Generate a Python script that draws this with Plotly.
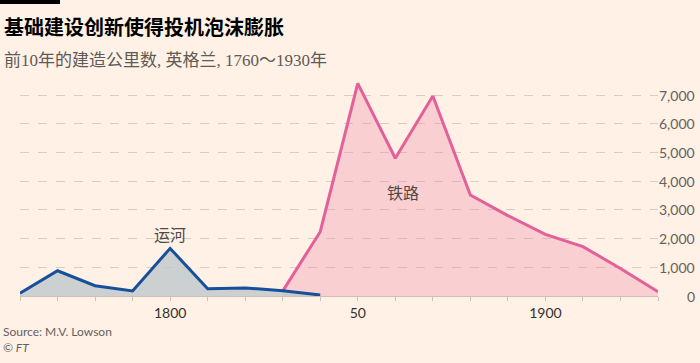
import plotly.graph_objects as go

# ---- data ----
canal_years = [1760, 1770, 1780, 1790, 1800, 1810, 1820, 1830, 1840]
canal_km = [95, 880, 360, 175, 1660, 255, 280, 185, 35]

rail_years = [1830, 1840, 1850, 1860, 1870, 1880, 1890, 1900, 1910, 1920, 1930]
rail_km = [170, 2240, 7410, 4800, 6970, 3520, 2800, 2150, 1720, 960, 150]

x_tick_vals = list(range(1760, 1931, 10))
x_tick_text = ["1800" if v == 1800 else "50" if v == 1850 else "1900" if v == 1900 else "" for v in x_tick_vals]
y_tick_vals = [0, 1000, 2000, 3000, 4000, 5000, 6000, 7000]
y_tick_text = ["0", "1,000", "2,000", "3,000", "4,000", "5,000", "6,000", "7,000"]

title = "基础建设创新使得投机泡沫膨胀"
subtitle = "前10年的建造公里数, 英格兰, 1760～1930年"
label_canal = "运河"
label_rail = "铁路"
source = "Source: M.V. Lowson"
credit = "© FT"

# ---- layout geometry (pixels) ----
W, H = 700, 363
L, R, T, B = 20, 42, 80, 67
PW, PH = W - L - R, H - T - B

def px(x):
    return (x - L) / PW

def py(y):
    return (H - B - y) / PH

BG = "#fff1e5"
fig = go.Figure()

fig.add_trace(go.Scatter(
    x=rail_years, y=rail_km, mode="lines", fill="tozeroy",
    line=dict(color="#e3609a", width=3), fillcolor="rgba(236,141,169,0.33)",
    hoverinfo="skip", showlegend=False))
fig.add_trace(go.Scatter(
    x=canal_years, y=canal_km, mode="lines", fill="tozeroy",
    line=dict(color="#17509a", width=3), fillcolor="rgba(190,198,203,0.78)",
    hoverinfo="skip", showlegend=False))

ann = []
ann.append(dict(text="<b>" + title + "</b>", x=px(2), y=py(26), xref="paper", yref="paper",
                xanchor="left", yanchor="middle", showarrow=False,
                font=dict(family="Noto Sans CJK SC", size=20, color="#000000")))
ann.append(dict(text=subtitle, x=px(2), y=py(61), xref="paper", yref="paper",
                xanchor="left", yanchor="middle", showarrow=False,
                font=dict(family="Liberation Serif, Noto Sans CJK SC", size=17, color="#605a56")))
ann.append(dict(text=source, x=px(1), y=py(331), xref="paper", yref="paper",
                xanchor="left", yanchor="middle", showarrow=False,
                font=dict(family="Lato, Noto Sans", size=12, color="#66605c")))
ann.append(dict(text="<i>" + credit + "</i>", x=px(1), y=py(347), xref="paper", yref="paper",
                xanchor="left", yanchor="middle", showarrow=False,
                font=dict(family="Lato, Noto Sans", size=12, color="#66605c")))
ann.append(dict(text=label_canal, x=1800, y=py(234), xref="x", yref="paper",
                xanchor="center", yanchor="middle", showarrow=False,
                font=dict(family="Noto Sans CJK SC", size=16, color="#4d4845")))
ann.append(dict(text=label_rail, x=1862, y=py(192), xref="x", yref="paper",
                xanchor="center", yanchor="middle", showarrow=False,
                font=dict(family="Noto Sans CJK SC", size=16, color="#4d4845")))
for v, t in zip(y_tick_vals, y_tick_text):
    ann.append(dict(text=t, x=px(697), y=v, xref="paper", yref="y",
                    xanchor="right", yanchor="middle", showarrow=False,
                    font=dict(family="Lato, Noto Sans", size=14, color="#66605c")))

fig.update_layout(
    width=W, height=H, autosize=False,
    margin=dict(l=L, r=R, t=T, b=B, pad=0),
    paper_bgcolor=BG, plot_bgcolor=BG,
    annotations=ann,
    shapes=[dict(type="rect", xref="paper", yref="paper", x0=px(0), x1=px(60), y0=py(0), y1=py(4),
                 fillcolor="#000000", line=dict(width=0), layer="above")],
    xaxis=dict(range=[1760, 1930], tickvals=x_tick_vals, ticktext=x_tick_text,
               ticks="outside", ticklen=4, tickcolor="#ccc1b7", tickwidth=1,
               showline=True, linecolor="#ccc1b7", linewidth=1, showgrid=False, zeroline=False,
               tickfont=dict(family="Lato, Noto Sans", size=14, color="#33302e"), fixedrange=True),
    yaxis=dict(range=[0, (H - B - T) / 28.7 * 1000], tickvals=y_tick_vals, showticklabels=False,
               showgrid=True, gridcolor="#d8cdc3", griddash="dash", gridwidth=1,
               zeroline=False, showline=False, fixedrange=True),
)

fig.write_html("out.html", config={"displayModeBar": False},
               post_script="document.body.style.margin='0';document.body.style.background='#fff1e5';")
